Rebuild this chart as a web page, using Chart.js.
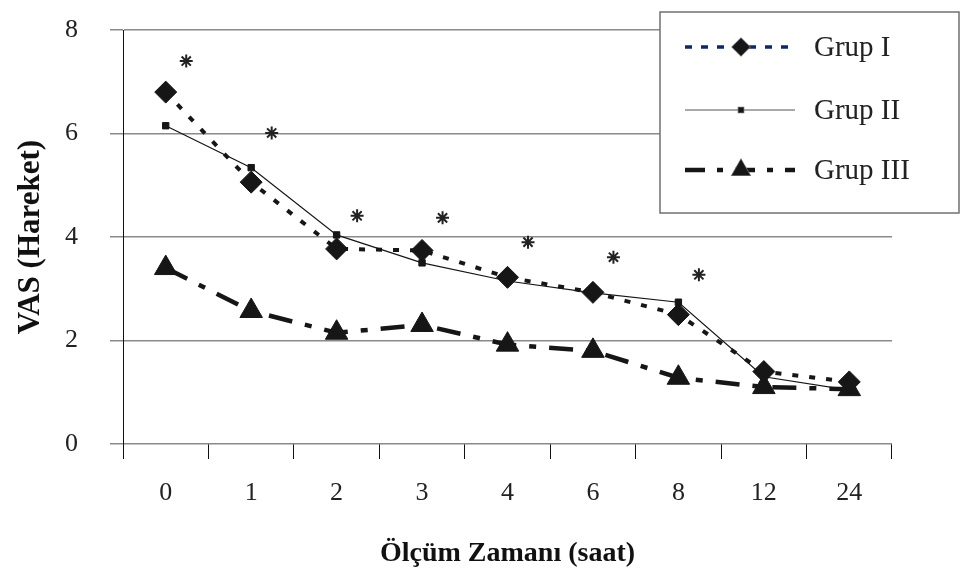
<!DOCTYPE html>
<html>
<head>
<meta charset="utf-8">
<script src="https://cdn.jsdelivr.net/npm/chart.js@4"></script>
<style>
  html, body { margin: 0; padding: 0; background: #fff; }
  #wrap { width: 961px; height: 579px; }
</style>
</head>
<body>
<div id="wrap"><canvas id="vasChart" width="961" height="579"></canvas></div>
<script>
// ===== Data =====
const hours = ['0', '1', '2', '3', '4', '6', '8', '12', '24'];
const grupI = [6.8, 5.06, 3.77, 3.74, 3.22, 2.93, 2.5, 1.4, 1.2];
const grupII = [6.15, 5.34, 4.04, 3.5, 3.15, 2.92, 2.74, 1.3, 1.04];
const grupIII = [3.4, 2.57, 2.15, 2.3, 1.92, 1.8, 1.28, 1.1, 1.06];
// significance marks (*) drawn just right of each hour
const starY = [7.4, 6.01, 4.41, 4.37, 3.9, 3.61, 3.27];
const starShift = 0.24;

const serif = '"Liberation Serif", "DejaVu Serif", serif';
const ink = '#161616';

// ===== Legend box drawn like the original =====
const boxLegend = {
    id: 'boxLegend',
    afterDraw(chart) {
        const ctx = chart.ctx;
        ctx.save();
        ctx.fillStyle = '#fff';
        ctx.strokeStyle = '#707070';
        ctx.lineWidth = 1.5;
        ctx.fillRect(660, 12, 299, 201);
        ctx.strokeRect(660, 12, 299, 201);

        const rows = [47, 110, 170];
        chart.data.datasets.slice(0, 3).forEach((ds, i) => {
            const y = rows[i];
            ctx.save();
            ctx.strokeStyle = ds.legendColor || ds.borderColor;
            ctx.lineWidth = ds.legendWidth || ds.borderWidth;
            ctx.setLineDash(ds.legendDash || ds.borderDash || []);
            ctx.beginPath();
            ctx.moveTo(685, y);
            ctx.lineTo(795, y);
            ctx.stroke();
            ctx.restore();
            Chart.helpers.drawPoint(ctx, {
                pointStyle: ds.pointStyle,
                radius: ds.pointRadius * 0.8,
                borderWidth: 1
            }, 741, y);
            ctx.fillStyle = ink;
            ctx.fill();
            ctx.fillStyle = '#222';
            ctx.font = '29px ' + serif;
            ctx.textBaseline = 'middle';
            ctx.fillText(ds.label, 814, y + 1);
        });
        ctx.restore();
    }
};

const ctx = document.getElementById('vasChart').getContext('2d');
const vasChart = new Chart(ctx, {
    type: 'line',
    data: {
        labels: hours,
        datasets: [
            {
                label: 'Grup I',
                data: grupI,
                borderColor: ink,
                legendColor: '#0b2a66',
                legendWidth: 3.5,
                borderWidth: 4,
                borderDash: [6, 11],
                legendDash: [7, 9],
                pointStyle: 'rectRot',
                pointRadius: 11,
                pointBackgroundColor: ink,
                pointBorderColor: ink,
                pointBorderWidth: 1,
                tension: 0
            },
            {
                label: 'Grup II',
                data: grupII,
                borderColor: ink,
                legendColor: '#555',
                borderWidth: 1.2,
                pointStyle: 'rect',
                pointRadius: 4.5,
                pointBackgroundColor: ink,
                pointBorderColor: ink,
                pointBorderWidth: 1,
                tension: 0
            },
            {
                label: 'Grup III',
                data: grupIII,
                borderColor: ink,
                borderWidth: 4.5,
                borderDash: [24, 13, 7, 13],
                legendDash: [20, 12, 6, 12],
                pointStyle: 'triangle',
                pointRadius: 13,
                pointBackgroundColor: ink,
                pointBorderColor: ink,
                pointBorderWidth: 1,
                tension: 0
            },
            {
                label: 'p',
                xAxisID: 'x2',
                data: starY.map((v, i) => ({ x: i + starShift, y: v })),
                showLine: false,
                pointStyle: 'star',
                pointRadius: 6.5,
                pointBorderColor: '#222',
                pointBorderWidth: 2
            }
        ]
    },
    options: {
        responsive: false,
        animation: false,
        layout: { autoPadding: false, padding: { top: 30, right: 69, left: 0, bottom: 0 } },
        plugins: {
            legend: { display: false },
            tooltip: { enabled: false }
        },
        scales: {
            x: {
                type: 'category',
                offset: true,
                grid: {
                    offset: true,
                    drawOnChartArea: false,
                    drawTicks: true,
                    tickLength: 15,
                    tickColor: '#111',
                    tickWidth: 1
                },
                border: { display: false },
                ticks: {
                    color: '#222',
                    padding: 19,
                    font: { family: serif, size: 26 }
                },
                title: {
                    display: true,
                    text: 'Ölçüm Zamanı (saat)',
                    color: '#111',
                    padding: 8,
                    font: { family: serif, size: 28, weight: 'bold' }
                },
                afterFit(scale) {
                    scale.height = 135;
                    scale.paddingLeft = 0;
                    scale.paddingRight = 0;
                }
            },
            x2: {
                type: 'linear',
                display: false,
                min: -0.5,
                max: hours.length - 0.5
            },
            y: {
                min: 0,
                max: 8,
                ticks: {
                    stepSize: 2,
                    color: '#222',
                    padding: 32,
                    font: { family: serif, size: 26 }
                },
                grid: {
                    color: '#8a8a8a',
                    lineWidth: 1.5,
                    tickLength: 13,
                    tickColor: '#8a8a8a'
                },
                border: { color: '#111', width: 1 },
                title: {
                    display: true,
                    text: 'VAS (Hareket)',
                    color: '#111',
                    padding: 12,
                    font: { family: serif, size: 31, weight: 'bold' }
                },
                afterFit(scale) {
                    scale.width = 123;
                    scale.paddingTop = 0;
                    scale.paddingBottom = 0;
                }
            }
        }
    },
    plugins: [boxLegend]
});
</script>
</body>
</html>
